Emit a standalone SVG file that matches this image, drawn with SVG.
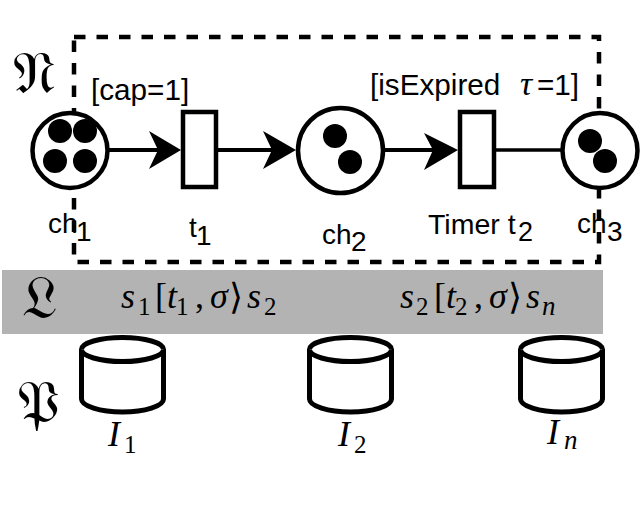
<svg xmlns="http://www.w3.org/2000/svg" width="641" height="518" viewBox="0 0 641 518">
<style>
.sans{font-family:"Liberation Sans",Arial,sans-serif;font-size:29.700px;fill:#000}
.lab{font-family:"Liberation Sans",Arial,sans-serif;font-size:28px;fill:#000}
.m{font-family:"Liberation Serif","DejaVu Serif",serif;font-size:36px;fill:#000}
.ang{font-family:"DejaVu Sans",sans-serif;font-weight:200;font-size:36px;fill:#000}
.mi{font-family:"Liberation Serif","DejaVu Serif",serif;font-style:italic;font-size:36px;fill:#000}
.ms{font-family:"Liberation Serif","DejaVu Serif",serif;font-size:25px;fill:#000}
.msi{font-family:"Liberation Serif","DejaVu Serif",serif;font-style:italic;font-size:27px;fill:#000}
.f{font-family:"DejaVu Sans","Noto Sans",serif;font-size:60px;fill:#000}
.place{fill:#fff;stroke:#000;stroke-width:4.5}
.trans{fill:#fff;stroke:#000;stroke-width:4.5}
.tok{fill:#000}
.edge{fill:none;stroke:#000;stroke-width:4}
.head{fill:#000}
.cyl{fill:#fff;stroke:#000;stroke-width:5;stroke-linejoin:round}
</style>
<rect width="641" height="518" fill="#fff"/>
<g id="net-boundary"><rect x="74" y="37" width="525" height="225" fill="none" stroke="#000" stroke-width="4.500" stroke-dasharray="11.500 11"/></g>
<g id="connectors">
<path class="edge" d="M109 150H160"/><path class="head" d="M181 150L149 131L158 150L149 169Z"/>
<path class="edge" d="M218 150H275"/><path class="head" d="M296 150L263 131L272 150L263 169Z"/>
<path class="edge" d="M385 150H435"/><path class="head" d="M458 150L424 133L433 150L424 170Z"/>
<path class="edge" d="M496 150H561" style="stroke-width:3.500"/>
</g>
<g id="ch1"><circle class="place" cx="70" cy="150.500" r="37.500"/><circle class="tok" cx="60" cy="131" r="12"/><circle class="tok" cx="85" cy="131" r="12"/><circle class="tok" cx="55" cy="161" r="12"/><circle class="tok" cx="85" cy="161" r="12"/>
<text class="lab" x="48" y="233">ch</text><text class="lab" x="76" y="241">1</text></g>
<g id="t1"><rect class="trans" x="183" y="112" width="33" height="75"/><text class="lab" x="189" y="237">t</text><text class="lab" x="196" y="245">1</text></g>
<g id="ch2"><circle class="place" cx="340.500" cy="150.500" r="42.500"/><circle class="tok" cx="335" cy="136" r="12"/><circle class="tok" cx="350" cy="162" r="12"/>
<text class="lab" x="322" y="244">ch</text><text class="lab" x="351" y="251">2</text></g>
<g id="t2"><rect class="trans" x="460" y="112" width="34" height="75"/><text class="lab" x="428" y="234" style="font-size:28.500px">Timer t</text><text class="lab" x="518" y="241" style="font-size:27px">2</text></g>
<g id="ch3"><circle class="place" cx="600" cy="150.500" r="37.500"/><circle class="tok" cx="590" cy="141" r="12"/><circle class="tok" cx="605" cy="161" r="12"/>
<text class="lab" x="577" y="233">ch</text><text class="lab" x="607" y="241">3</text></g>
<g id="guards"><text class="sans" x="91" y="100">[cap=1]</text><text class="sans" x="370" y="95">[isExpired</text><text class="mi" x="520" y="95" style="font-size:34px">τ</text><text class="sans" x="537" y="95">=1]</text></g>
<g id="ledger"><rect x="2" y="270" width="601" height="64" fill="#b3b3b3"/>
<text class="mi" x="121" y="308">s</text><text class="ms" x="138" y="315">1</text><text class="m" x="155" y="308">[</text><text class="mi" x="167" y="308">t</text><text class="ms" x="176" y="315">1</text><text class="m" x="195" y="308">,</text><text class="mi" x="210" y="308">σ</text><text class="ang" x="229" y="309">⟩</text><text class="mi" x="247" y="308">s</text><text class="ms" x="264" y="315">2</text>
<text class="mi" x="400" y="308">s</text><text class="ms" x="416" y="315">2</text><text class="m" x="434" y="308">[</text><text class="mi" x="446" y="308">t</text><text class="ms" x="455" y="315">2</text><text class="m" x="474" y="308">,</text><text class="mi" x="489" y="308">σ</text><text class="ang" x="508" y="309">⟩</text><text class="mi" x="526" y="308">s</text><text class="msi" x="542" y="315">n</text></g>
<g id="I1"><path class="cyl" d="M81.500 349.500A41 12 0 0 1 163.500 349.500V399C163.500 406 145 412 122.500 412S81.500 406 81.500 399Z"/><path class="cyl" d="M81.500 349.500A41 12 0 0 0 163.500 349.500"/><text class="mi" x="108" y="446">I</text><text class="ms" x="124" y="453">1</text></g>
<g id="I2"><path class="cyl" d="M309.500 349.500A41 12 0 0 1 391.500 349.500V399C391.500 406 373 412 350.500 412S309.500 406 309.500 399Z"/><path class="cyl" d="M309.500 349.500A41 12 0 0 0 391.500 349.500"/><text class="mi" x="338" y="446">I</text><text class="ms" x="354" y="453">2</text></g>
<g id="In"><path class="cyl" d="M520.500 349.500A41 12 0 0 1 602.500 349.500V399C602.500 406 584 412 561.500 412S520.500 406 520.500 399Z"/><path class="cyl" d="M520.500 349.500A41 12 0 0 0 602.500 349.500"/><text class="mi" x="547" y="444">I</text><text class="msi" x="564" y="449">n</text></g>
<g id="layer-labels"><text class="f" x="13" y="93">𝔑</text><text class="f" x="22" y="318">𝔏</text><text class="f" x="17" y="423">𝔓</text></g>
</svg>
